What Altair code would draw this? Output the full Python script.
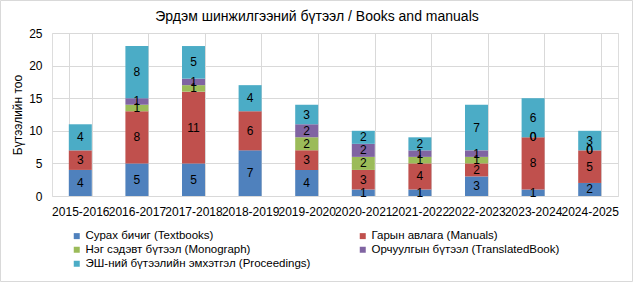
import altair as alt
import pandas as pd

years = ["2015-2016", "2016-2017", "2017-2018", "2018-2019", "2019-2020",
         "2020-2021", "2021-2022", "2022-2023", "2023-2024", "2024-2025"]
series = ["Сурах бичиг (Textbooks)", "Гарын авлага (Manuals)",
          "Нэг сэдэвт бүтээл (Monograph)", "Орчуулгын бүтээл (TranslatedBook)",
          "ЭШ-ний бүтээлийн эмхэтгэл (Proceedings)"]
textbooks = [4, 5, 5, 7, 4, 1, 1, 3, 1, 2]
manuals = [3, 8, 11, 6, 3, 3, 4, 2, 8, 5]
monograph = [None, 1, 1, None, 2, 2, 1, 1, 0, 0]
translated = [None, 1, 1, None, 2, 2, 1, 1, 0, 0]
proceedings = [4, 8, 5, 4, 3, 2, 2, 7, 6, 3]
y_ticks = [0, 5, 10, 15, 20, 25]
colors = ["#4F81BD", "#C0504D", "#9BBB59", "#8064A2", "#4BACC6"]

rows = []
for si, vals in enumerate([textbooks, manuals, monograph, translated, proceedings]):
    for yr, v in zip(years, vals):
        rows.append({"year": yr, "series": series[si], "idx": si, "value": v})
df = pd.DataFrame(rows)

FONT = "Liberation Sans"

base = alt.Chart(df).transform_filter("isValid(datum.value)")

x_axis = alt.Axis(title=None, labelAngle=0, labelFontSize=12, labelFont=FONT,
                  labelColor="#000000", labelPadding=10, ticks=False, domain=False,
                  grid=True, tickBand="extent", gridColor="#D9D9D9")
y_axis = alt.Axis(title="Бүтээлийн тоо", values=y_ticks,
                  labelOverlap=False, labelFontSize=12, labelFont=FONT,
                  labelColor="#000000", labelPadding=10, ticks=False, domain=False,
                  gridColor="#D9D9D9", titleFont=FONT, titleFontSize=12,
                  titleFontWeight="normal", titleColor="#000000", titlePadding=4)
x_scale = alt.Scale(paddingInner=0.6, paddingOuter=0.3)
y_scale = alt.Scale(domain=[0, 25], nice=False)

bars = base.mark_bar(size=23).encode(
    x=alt.X("year:N", sort=years, scale=x_scale, axis=x_axis),
    y=alt.Y("value:Q", stack="zero", scale=y_scale, axis=y_axis),
    color=alt.Color("series:N", sort=series,
                    scale=alt.Scale(domain=series, range=colors),
                    legend=alt.Legend(title=None, orient="none", legendX=19, legendY=197,
                                      columns=2, direction="horizontal",
                                      columnPadding=46, rowPadding=1,
                                      symbolType="square", symbolSize=36,
                                      labelFont=FONT, labelFontSize=11.5, labelLimit=400,
                                      labelColor="#000000", labelOffset=3, padding=0)),
    order=alt.Order("idx:Q", sort="ascending"),
)

labels = base.transform_stack(
    stack="value", groupby=["year"], as_=["y0", "y1"],
    sort=[alt.SortField("idx", order="ascending")]
).transform_calculate(mid="(datum.y0 + datum.y1) / 2").mark_text(
    font=FONT, fontSize=12, color="#000000"
).encode(
    x=alt.X("year:N", sort=years, scale=x_scale, axis=x_axis),
    y=alt.Y("mid:Q", scale=y_scale, axis=y_axis),
    text=alt.Text("value:Q"),
)

frame = alt.Chart(pd.DataFrame({"f": [0]})).mark_rect(
    filled=False, stroke="#D9D9D9", strokeWidth=1
).encode(x=alt.value(-51.5), x2=alt.value(580.5), y=alt.value(-32.5), y2=alt.value(248.5))

chart = alt.layer(bars, labels, frame).properties(
    width=566, height=163,
    padding={"left": 52, "top": 33, "right": 16, "bottom": 86},
    autosize=alt.AutoSizeParams(type="none"),
    title=alt.Title("Эрдэм шинжилгээний бүтээл / Books and manuals", font=FONT,
                    fontSize=14, fontWeight="normal", color="#000000",
                    anchor="middle", dx=-18, dy=32, offset=8),
).configure_view(stroke="#D9D9D9").configure(background="white")

chart.save("out.html", embed_options={"renderer": "svg", "actions": False})
